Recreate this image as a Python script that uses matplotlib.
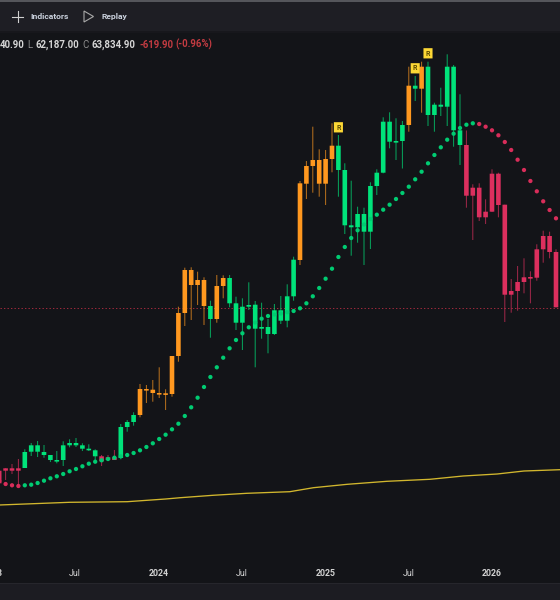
import matplotlib
matplotlib.use("Agg")
import matplotlib.pyplot as plt
import numpy as np
from matplotlib.patches import Rectangle, FancyBboxPatch, Polygon
from matplotlib.collections import LineCollection

plt.rcParams['font.family'] = ['Roboto', 'DejaVu Sans']

# Candles from index -1 to 86, chart level measured downward from the top of the pane
first_index = -1
body_top = [470.7,468.3,468.3,468.3,452,445.3,445.3,452,455,460,445.3,443,443,445.3,448.7,450.3,456.3,457.3,457.3,427,422,415,
            389,389,389.7,393,393.3,356,313,270,270,280,280,306,286,278,278,303.3,306.7,305,304.7,327,327,310.3,310.3,296.3,259.7,
            183.3,166,160,160,159,145.7,145.7,170,225.3,214,214,186,172.7,121.7,121.7,141,125,85.7,85.7,66.7,66.7,104.7,104.7,66.7,66.7,130.3,
            145,187.7,187.7,211.7,173.7,173.7,204.7,291,282,277.3,277,249.3,236,236,252]
body_bottom = [483.3,470.7,470.7,470.7,468,451.7,451.7,455,460,460.7,460,445.3,445.3,448.7,450.3,456.3,461.3,460,460,458,427,422,
            415,389.7,393,393.7,394,394,356,313,285,285,306,319,319,286,303.3,322.7,322.7,306.7,328.7,328.7,334,334,320.7,320.7,296.3,
            260,183.7,166,183.7,183.7,159,170,225.3,227.3,227.3,231.7,231.7,186,172.7,141.7,142,141,125,88.7,88.7,115,115,106.7,106.7,130.3,145,
            195.7,195.7,217.3,217.3,211.7,205,294.7,294.7,291,282,277.7,277.7,249.3,252,307.3]
wick_top = [468,468.3,464,459,449.3,443,441,445,455,451,441.3,439.3,438,443.3,444.3,449.3,455,455,450,424,420,412.3,
            384,385,380,367.3,389.3,356,306.7,267.7,267.3,271.7,277.3,300.7,275,275.3,275,296.7,298.3,282.3,301,302.7,319,304,296,284.3,256.7,
            181,161,126.7,149.3,150,123.3,135,163.3,180.7,206.7,207.7,182.3,169.3,117.3,112.3,118.3,121,66.7,76,61.7,61.7,102.7,87.7,54.3,65,94.3,
            130.5,184.3,183.3,199.3,169.3,172.7,204.7,279,266,258.3,271.3,244.3,230.7,231.7,249.3]
wick_bottom = [485,480,474,485,468,456,457,457.7,462,463.3,466,447.3,447,451,451,461.7,466,460.7,460,459.3,431.7,425.7,
            417.3,403,401.7,398,410,396.7,361.7,326,320,305,325,337.7,322.7,298.3,307.3,330,350,310,367.3,338.7,353.3,335,324,327.3,300.7,
            265,199,192.7,196.7,205,172.3,196.7,234,255.7,242.7,265,249,195,173.3,148.3,160,168.5,131.7,101,112.7,126,131.7,116,126,146.7,165,
            207.7,240,221,224,212,217.3,322,312.7,310.7,293.3,303.3,280.7,262.7,258.3,307.3]
candle_state = "rrrr" + "g"*12 + "rrr" + "ggg" + "o"*11 + "g" + "oo" + "g"*11 + "o"*6 + "g"*11 + "o" + "g" + "o" + "g"*6 + "r"*15

# Parabolic SAR dots
sar = [481,484,485.3,486,485.3,484.7,483,480.7,478.3,476.3,474,471.3,469,466.3,463.7,461.7,460.3,459,457.7,456.3,455,453,450.3,447,
       443.3,439,434.7,429.3,423.7,416,407.3,397.7,387,377,367.3,357.7,348.3,340,333.3,327.3,322.5,318.7,316,314.5,313.5,312.2,311,308.3,
       303.3,296.3,288,278.7,268.7,257,247,238,230.3,224.5,219,214.7,209.7,204.7,199,193,186.7,179.3,171.7,163.3,155,147.3,139.7,133.7,128,
       124.7,123.3,124,126.7,130.3,135.3,142,150,159.7,170,181,191.3,201.3,210,218.3]
sar_state = "rrrr" + "g"*71 + "r"*13

# Slow moving average
ma_index = [-1, 10, 19, 25, 27.3, 32.4, 37.7, 44.4, 48.1, 53.4, 59.6, 66.3, 71.5, 76.8, 81, 86.6]
ma_level = [505, 502.3, 501.7, 499, 497.7, 495.3, 493.3, 491.7, 487.7, 484.3, 481.3, 479.3, 476, 474, 471, 469.7]

# Signal badges and price line
badge_index = [52, 64, 66]
badge_level = [127.3, 68.3, 53.3]
last_close_level = 308

# Time axis
time_index = [-2, 10.85, 23.9, 36.95, 50, 63, 76]
time_labels = ["2023", "Jul", "2024", "Jul", "2025", "Jul", "2026"]

COL = {"g": "#00e37a", "o": "#ff981f", "r": "#dc2f5e"}
DOT = {"g": "#00cc72", "r": "#d92d5a"}
BG = "#131418"
BAR = "#1e1e24"
W, H = 560, 600

fig = plt.figure(figsize=(W/100, H/100), dpi=100, facecolor=BG)
ax = fig.add_axes([0, 0, 1, 1])
ax.set_facecolor(BG)
ax.set_xlim(-5.6/6.4, (W-5.6)/6.4)
ax.set_ylim(H, 0)
ax.axis("off")

idx = np.arange(first_index, first_index + len(body_top))
top, bottom = np.array(body_top), np.array(body_bottom)
wt, wb = np.array(wick_top), np.array(wick_bottom)
cols = [COL[c] for c in candle_state]

# price line
ax.plot([ax.get_xlim()[0], ax.get_xlim()[1]], [last_close_level]*2, color="#a32a3e", lw=0.7,
        dashes=(1.4, 2.2), zorder=1, dash_capstyle="butt")

# moving average
ax.plot(ma_index, ma_level, color="#d2b72e", lw=0.95, zorder=1.5)

# wicks
segs = [[(i, a), (i, b)] for i, a, b in zip(idx, wt, wb)]
lc = LineCollection(segs, colors=cols, linewidths=0.72, zorder=2, antialiased=True, alpha=0.7)
lc.set_snap(False)
ax.add_collection(lc)

# bodies
bw = 4.6/6.4
for i, a, b, c in zip(idx, top, bottom, cols):
    h = max(b - a, 1.6)
    r = Rectangle((i - bw/2, a), bw, h, facecolor=c, edgecolor="none", zorder=3)
    r.set_snap(False)
    ax.add_patch(r)

# SAR dots
sidx = np.arange(first_index, first_index + len(sar))
ax.scatter(sidx, sar, s=9.5, c=[DOT[c] for c in sar_state], linewidths=0, zorder=4)

# badges
for i, y in zip(badge_index, badge_level):
    p = FancyBboxPatch((i - 3.7/6.4, y - 4.3), 7.4/6.4, 8.6,
                       boxstyle="round,pad=0", facecolor="#fdd835", edgecolor="#fdd835", lw=1.2, zorder=5)
    p.set_snap(False)
    ax.add_patch(p)
    ax.text(i, y + 0.2, "R", color="#5a4a00", fontsize=5, fontweight="bold", ha="center", va="center", zorder=6)

# bars (figure pixels, measured from the top)
def bar(y0, y1, color):
    fig.add_artist(Rectangle((0, 1 - y1/H), 1, (y1 - y0)/H, transform=fig.transFigure,
                             facecolor=color, edgecolor="none", zorder=7))
bar(0, 32, BAR)
bar(0, 1.5, "#55565b")
bar(31, 33, "#17171c")
bar(583.5, 600, "#1c1c22")
bar(583, 584, "#26262c")

def label(x, y, s, color="#d6d6d6", size=6.3, weight="normal", ha="left"):
    fig.text(x/W, 1 - y/H, s, color=color, fontsize=size, fontweight=weight, ha=ha, va="center", zorder=9)

# toolbar
fig.add_artist(plt.Line2D([12/W, 23/W], [1-16.5/H]*2, color="#d0d0d0", lw=0.8, zorder=9))
fig.add_artist(plt.Line2D([17.5/W]*2, [1-11/H, 1-22/H], color="#d0d0d0", lw=0.8, zorder=9))
label(30, 16.5, "Indicators", size=6.1, weight="bold", color="#c9d0dc")
fig.add_artist(Polygon([(84/W, 1-11/H), (84/W, 1-22/H), (93.5/W, 1-16.5/H)], closed=True, transform=fig.transFigure,
                       facecolor="none", edgecolor="#a8a8a8", lw=0.8, zorder=9))
label(102, 16.5, "Replay", size=6.1, weight="bold", color="#c9d0dc")

# OHLC header
label(0, 44.5, "40.90", size=6.9, weight="bold")
label(27, 44.5, "L", size=6.9, color="#8c8c8c")
label(35, 44.5, "62,187.00", size=6.9, weight="bold")
label(82, 44.5, "C", size=6.9, color="#8c8c8c")
label(91, 44.5, "63,834.90", size=6.9, weight="bold")
label(139, 44.5, "-619.90", size=6.9, color="#c23b41", weight="bold")
label(175.5, 44.5, "(-0.96%)", size=6.9, color="#c23b41", weight="bold")

# time axis
for i, s in zip(time_index, time_labels):
    ax.text(i, 573.5, s, color="#d2d2d2", fontsize=6.3, fontweight="bold" if s != "Jul" else "normal",
            ha="center", va="center", zorder=9)

fig.savefig("out.png", dpi=100, facecolor=BG)
